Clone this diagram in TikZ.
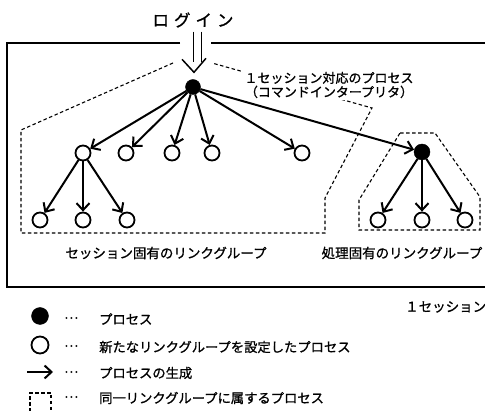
\documentclass[tikz,border=0pt]{standalone}
\usepackage{fontspec}
\newfontfamily\jp{Noto Sans CJK JP}[FakeBold=1]
\usetikzlibrary{arrows.meta,calc}
\begin{document}
\begin{tikzpicture}[x=1pt,y=-1pt,
  proc/.style={circle,fill=black,draw=black,minimum size=15pt,inner sep=0pt},
  nproc/.style={circle,draw=black,line width=1.8pt,fill=white,minimum size=15pt,inner sep=0pt},
  gen/.style={line width=2pt,-{Straight Barb[length=7pt,width=13pt]}},
  grp/.style={line width=1.1pt,dash pattern=on 3.5pt off 2.5pt},
  frame/.style={line width=1.8pt},
  big/.style={font=\jp\fontsize{13.5}{14}\selectfont,inner sep=0pt},
  mid/.style={font=\jp\fontsize{13}{14}\selectfont,inner sep=1.5pt,fill=white,align=center},
  small/.style={font=\jp\fontsize{13.3}{14}\selectfont,inner sep=0pt,anchor=west},
]
\useasboundingbox (0,0) rectangle (485,411);
% outer session frame
\draw[frame] (180,42.7) -- (7,42.7) -- (7,287) -- (486,287);
\draw[frame] (211,42.7) -- (486,42.7);
% groups
\draw[grp] (173,63) -- (21,130) -- (21,233) -- (325,233) -- (325,198) -- (372,108) -- (212,63);
\draw[grp] (400,133) -- (435,133) -- (480,197) -- (480,230) -- (359,230) -- (359,200) -- cycle;
% login
\node[font=\jp\fontsize{16.5}{16}\selectfont,inner sep=0pt] (login) at (193,20) {ロ\hspace{5pt}グ\hspace{5pt}イ\hspace{5pt}ン};
% nodes
\node[proc] (r) at (193,87) {};
\node[nproc] (c1) at (83,153) {};
\node[nproc] (c2) at (126,153) {};
\node[nproc] (c3) at (172,153) {};
\node[nproc] (c4) at (212,153) {};
\node[nproc] (c5) at (302,153) {};
\node[proc,minimum size=16pt] (p) at (422,152) {};
\node[nproc] (g1) at (40,220) {};
\node[nproc] (g2) at (83,220) {};
\node[nproc] (g3) at (127,220) {};
\node[nproc] (q1) at (378,220) {};
\node[nproc] (q2) at (422,220) {};
\node[nproc] (q3) at (465,220) {};
% login double arrow
\draw[line width=1.5pt] ($(login.south)+(0.5,4)$) -- ($(r.north)+(0.5,-17)$);
\draw[line width=1.5pt] ($(login.south)+(8.5,4)$) -- ($(r.north)+(8.5,-17)$);
\draw[line width=1.5pt] ($(r.north)+(-11,-20)$) -- ($(r.north)+(1,-7)$) -- ($(r.north)+(13,-21)$);
% process creation
\foreach \t in {c1,c2,c3,c4,c5,p} \draw[gen] (r) -- (\t);
\foreach \t in {g1,g2,g3} \draw[gen] (c1) -- (\t);
\foreach \t in {q1,q2,q3} \draw[gen] (p) -- (\t);
% labels
\node[mid] (cl) at (329,85) {１セッション対応のプロセス\\（コマンドインタープリタ）};
\node[big] (sl) at (166,253) {セッション固有のリンクグループ};
\node[big] (pl) at (402,253) {処理固有のリンクグループ};
\node[big,anchor=west] (ss) at (405,307) {１セッション};
% legend
\node[proc,minimum size=17pt] (lb) at (40,316) {};
\node[nproc,minimum size=17pt] (lw) at (40,345) {};
\coordinate (la1) at (27,372);
\coordinate (la2) at (53,372);
\draw[gen] (la1) -- (la2);
\draw[grp] (30,412) -- (30,393) -- (51,393) -- (51,412);
\foreach \y in {318,346,372,397} \node[small] at (64,\y) {…};
\node[small] (t1) at (99,319) {プロセス};
\node[small] (t2) at (99,347) {新たなリンクグループを設定したプロセス};
\node[small] (t3) at (99,373) {プロセスの生成};
\node[small] (t4) at (99,398) {同一リンクグループに属するプロセス};
\end{tikzpicture}
\end{document}
